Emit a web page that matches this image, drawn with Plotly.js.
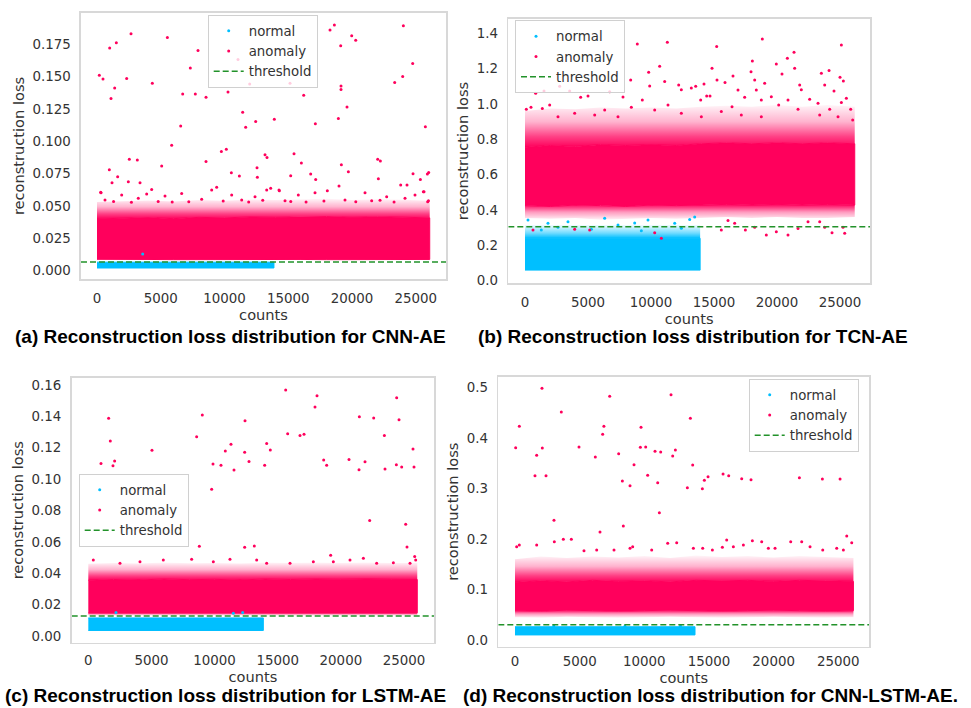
<!DOCTYPE html>
<html>
<head>
<meta charset="utf-8">
<script src="https://cdn.plot.ly/plotly-3.0.1.min.js"></script>
<style>html,body{margin:0;padding:0;background:#fff;}#chart{width:971px;height:708px;}</style>
</head>
<body>
<div id="chart"></div>
<script>
// ---------------- DATA ----------------
const xTickVals = [0, 5000, 10000, 15000, 20000, 25000];
const xTickLabels = ['0', '5000', '10000', '15000', '20000', '25000'];

// (a) CNN-AE
const aYTickVals = [0, 0.025, 0.05, 0.075, 0.1, 0.125, 0.15, 0.175];
const aYTickLabels = ['0.000', '0.025', '0.050', '0.075', '0.100', '0.125', '0.150', '0.175'];
const aThreshold = 0.0067;
const aEnvX = [0, 2000, 4000, 6000, 8000, 10000, 12000, 14000, 16000, 18000, 20000, 22000, 24000, 26100];
const aCoreLo = [0.0088, 0.0086, 0.0087, 0.0085, 0.0086, 0.0087, 0.0085, 0.0086, 0.0087, 0.0085, 0.0086, 0.0087, 0.0085, 0.0087];
const aCoreHi = [0.0400, 0.0405, 0.0410, 0.0402, 0.0412, 0.0408, 0.0415, 0.0412, 0.0416, 0.0418, 0.0412, 0.0416, 0.0413, 0.0408];
const aEdgeHi = [0.0530, 0.0538, 0.0542, 0.0535, 0.0546, 0.0540, 0.0550, 0.0546, 0.0552, 0.0555, 0.0546, 0.0552, 0.0548, 0.0540];
const aNormX = [0, 13880];
const aNormLo = [0.0021, 0.0021];
const aNormHi = [0.0066, 0.0066];
const aNormDotX = [3583];
const aNormDotY = [0.0129];
const aAnomX = [183, 471, 994, 1098, 1386, 1517, 2327, 2667, 968, 1177, 1621, 288, 2536, 3164, 2458, 3373, 4341, 5073, 5518, 5858, 6564, 6721, 7322, 7714, 7924, 8551, 8551, 9754, 10146, 10277, 10539, 11166, 11061, 11427, 11663, 11977, 12447, 12552, 12578, 13180, 13336, 13911, 13624, 14304, 15141, 15193, 15455, 16030, 16213, 16762, 17128, 17154, 18279, 18619, 18933, 19116, 19142, 19142, 19168, 18985, 19613, 19718, 19979, 20293, 22018, 22228, 22071, 23352, 23980, 24032, 24764, 24790, 25758, 25366, 26020, 25915, 23822, 24319, 25601,
  314, 1935, 3896, 4288, 5334, 6641, 8994, 9387, 10564, 12394, 13310, 14276, 15792, 17100, 18067, 21023, 22722, 25650, 25938, 628, 3240, 8210, 11350, 14747, 19453, 21546, 24160, 24944,
  1300, 2700, 4800, 5900, 7200, 9900, 11900, 13000, 15200, 16400, 17800, 20300, 22200, 23300, 26000];
const aAnomY = [0.151, 0.148, 0.172, 0.133, 0.141, 0.176, 0.1485, 0.183, 0.078, 0.068, 0.0726, 0.0605, 0.086, 0.0855, 0.0687, 0.068, 0.1447, 0.0808, 0.180, 0.0968, 0.1117, 0.1364, 0.1565, 0.1364, 0.170, 0.134, 0.0844, 0.0921, 0.0937, 0.138, 0.0757, 0.0731, 0.163, 0.1223, 0.1107, 0.1441, 0.1153, 0.0795, 0.0721, 0.0896, 0.0875, 0.1169, 0.0636, 0.0618, 0.1447, 0.0734, 0.0903, 0.0831, 0.1354, 0.0746, 0.1135, 0.0705, 0.1858, 0.1897, 0.1176, 0.1737, 0.1426, 0.140, 0.0819, 0.0654, 0.1264, 0.0764, 0.1815, 0.178, 0.086, 0.0847, 0.071, 0.1454, 0.150, 0.1892, 0.160, 0.0749, 0.1112, 0.0705, 0.0759, 0.0746, 0.0662, 0.0662, 0.061,
  0.0602, 0.0584, 0.0592, 0.0628, 0.0577, 0.0597, 0.0623, 0.0644, 0.0584, 0.0571, 0.0623, 0.0623, 0.0584, 0.0602, 0.0618, 0.0602, 0.0571, 0.061, 0.0533, 0.0546, 0.0559, 0.0551, 0.0546, 0.0541, 0.0546, 0.0541, 0.0559, 0.0584,
  0.0535, 0.0528, 0.0535, 0.053, 0.0532, 0.0538, 0.053, 0.0545, 0.0535, 0.053, 0.0538, 0.0532, 0.0545, 0.053, 0.054];

// (b) TCN-AE
const bYTickVals = [0, 0.2, 0.4, 0.6, 0.8, 1.0, 1.2, 1.4];
const bYTickLabels = ['0.0', '0.2', '0.4', '0.6', '0.8', '1.0', '1.2', '1.4'];
const bThreshold = 0.306;
const bEnvX = [0, 2000, 4000, 6000, 8000, 10000, 12000, 14000, 16000, 18000, 20000, 22000, 24000, 26170];
const bEdgeLo = [0.355, 0.350, 0.355, 0.345, 0.350, 0.355, 0.350, 0.355, 0.360, 0.355, 0.360, 0.355, 0.355, 0.360];
const bCoreLo = [0.425, 0.420, 0.428, 0.425, 0.420, 0.428, 0.425, 0.428, 0.432, 0.428, 0.432, 0.428, 0.432, 0.428];
const bCoreHi = [0.755, 0.765, 0.760, 0.770, 0.765, 0.770, 0.765, 0.775, 0.780, 0.775, 0.780, 0.775, 0.780, 0.775];
const bEdgeHi = [0.960, 0.975, 0.970, 0.980, 0.975, 0.980, 0.975, 0.985, 0.990, 0.985, 0.995, 0.985, 0.995, 0.985];
const bNormX = [0, 13900];
const bNormLo = [0.060, 0.060];
const bNormHi = [0.240, 0.240];
const bNormEdgeHi = [0.315, 0.315];
const bNormDotX = [238, 1825, 3413, 6324, 7381, 8704, 9763, 11880, 13071, 13466, 12408, 1296, 5265, 9233, 2619];
const bNormDotY = [0.344, 0.325, 0.334, 0.353, 0.315, 0.327, 0.344, 0.325, 0.347, 0.361, 0.297, 0.287, 0.291, 0.283, 0.302];
const bAnomX = [8915, 11296, 15213, 18837, 25107, 21351, 20822, 19948, 18044, 17938, 10689, 9815, 14842, 16508, 23520, 24130, 25002, 21402, 20398, 8387, 11085, 9895, 13547, 15239, 15874, 18229, 19022, 25266, 24525, 23785, 21932, 21800, 25849, 26007, 847, 1508, 3545, 2751, 106, 476, 1376, 1958, 4418, 5000, 6720, 7778, 9312, 12197, 12408, 13202, 14207, 14420, 14685, 13944, 16905, 17435, 16430, 18360, 18757, 19550, 20134, 20874, 22593, 23255, 24182, 25107, 25504, 5531, 6324, 8439, 10292, 11350, 12408, 15583, 17170, 21668, 23388, 2619, 3942, 7381, 13996, 18757, 24843,
  15583, 17488, 18229, 19154, 19948, 20874, 22462, 24367, 25372, 25240, 23785, 21668, 16640, 16112, 23388, 10820, 635, 3942, 5133, 10292];
const bAnomY = [1.340, 1.349, 1.325, 1.368, 1.334, 1.293, 1.259, 1.227, 1.244, 1.183, 1.214, 1.180, 1.202, 1.159, 1.174, 1.189, 1.151, 1.202, 1.170, 1.136, 1.127, 1.102, 1.100, 1.136, 1.121, 1.136, 1.117, 1.130, 1.074, 1.108, 1.080, 1.108, 0.970, 0.910, 1.061, 1.074, 1.074, 1.100, 0.970, 0.982, 0.975, 0.995, 1.038, 1.045, 1.070, 1.040, 1.023, 1.108, 1.080, 1.090, 1.113, 1.045, 1.045, 1.023, 1.079, 1.038, 0.985, 1.079, 1.023, 1.041, 0.995, 1.023, 1.027, 1.004, 0.970, 1.008, 1.032, 0.938, 0.966, 0.982, 0.966, 0.995, 0.948, 0.957, 0.938, 0.970, 0.938, 0.928, 0.948, 0.928, 0.928, 0.928, 0.928,
  0.287, 0.287, 0.302, 0.259, 0.277, 0.259, 0.334, 0.272, 0.268, 0.302, 0.302, 0.296, 0.325, 0.340, 0.334, 0.240, 0.287, 0.291, 0.287, 0.272];

// (c) LSTM-AE
const cYTickVals = [0, 0.02, 0.04, 0.06, 0.08, 0.10, 0.12, 0.14, 0.16];
const cYTickLabels = ['0.00', '0.02', '0.04', '0.06', '0.08', '0.10', '0.12', '0.14', '0.16'];
const cThreshold = 0.0127;
const cEnvX = [0, 2000, 4000, 6000, 8000, 10000, 12000, 14000, 16000, 18000, 20000, 22000, 24000, 26050];
const cEdgeLo = [0.0130, 0.0129, 0.0131, 0.0130, 0.0129, 0.0130, 0.0131, 0.0130, 0.0129, 0.0130, 0.0131, 0.0130, 0.0129, 0.0130];
const cCoreLo = [0.0147, 0.0146, 0.0148, 0.0146, 0.0147, 0.0146, 0.0148, 0.0147, 0.0146, 0.0147, 0.0148, 0.0146, 0.0147, 0.0147];
const cCoreHi = [0.0355, 0.0360, 0.0357, 0.0363, 0.0359, 0.0361, 0.0357, 0.0363, 0.0360, 0.0363, 0.0361, 0.0364, 0.0361, 0.0360];
const cEdgeHi = [0.0460, 0.0465, 0.0462, 0.0468, 0.0464, 0.0466, 0.0462, 0.0468, 0.0465, 0.0468, 0.0466, 0.0469, 0.0466, 0.0465];
const cNormX = [0, 13860];
const cNormLo = [0.0035, 0.0035];
const cNormHi = [0.0115, 0.0115];
const cNormDotX = [2191, 11484, 12223];
const cNormDotY = [0.0149, 0.0145, 0.0149];
const cAnomX = [1003, 1610, 1742, 1954, 2086, 5042, 8580, 9029, 9768, 9874, 10507, 10850, 11299, 11537, 12382, 12408, 12725, 12382, 13147, 8791, 13966, 14124, 14414, 15629, 15787, 16764, 17081, 17952, 18110, 18638, 18876, 20645, 21437, 21464, 21912, 22282, 22598, 23443, 23496, 24394, 24420, 24605, 24816, 25133, 25238, 25714, 25793, 19193, 25846,
  396, 2508, 4092, 5940, 8184, 9900, 11220, 13332, 14124, 15972, 17820, 19404, 20724, 21780, 22836, 24156, 25476, 25925];
const cAnomY = [0.110, 0.1388, 0.1243, 0.1086, 0.1116, 0.1184, 0.127, 0.1409, 0.0935, 0.1097, 0.1088, 0.1179, 0.1222, 0.1058, 0.1171, 0.1373, 0.1113, 0.0565, 0.0574, 0.0572, 0.1088, 0.1228, 0.1186, 0.1568, 0.129, 0.1279, 0.1286, 0.146, 0.1532, 0.1122, 0.1088, 0.1126, 0.106, 0.1398, 0.1111, 0.0737, 0.139, 0.1279, 0.1065, 0.1092, 0.1519, 0.1379, 0.1077, 0.0712, 0.0567, 0.1192, 0.1077, 0.0514, 0.0506,
  0.0485, 0.0463, 0.0474, 0.0485, 0.0489, 0.0474, 0.0489, 0.0485, 0.0463, 0.0463, 0.0474, 0.0474, 0.0485, 0.0495, 0.0463, 0.0467, 0.0463, 0.0485];

// (d) CNN-LSTM-AE
const dYTickVals = [0, 0.1, 0.2, 0.3, 0.4, 0.5];
const dYTickLabels = ['0.0', '0.1', '0.2', '0.3', '0.4', '0.5'];
const dThreshold = 0.0303;
const dEnvX = [0, 2000, 4000, 6000, 8000, 10000, 12000, 14000, 16000, 18000, 20000, 22000, 24000, 26170];
const dEdgeLo = [0.045, 0.044, 0.046, 0.045, 0.044, 0.045, 0.046, 0.045, 0.044, 0.045, 0.046, 0.045, 0.044, 0.045];
const dCoreLo = [0.058, 0.057, 0.059, 0.058, 0.057, 0.058, 0.059, 0.058, 0.057, 0.058, 0.059, 0.058, 0.057, 0.058];
const dCoreHi = [0.114, 0.117, 0.115, 0.118, 0.116, 0.117, 0.115, 0.118, 0.117, 0.118, 0.116, 0.118, 0.117, 0.116];
const dEdgeHi = [0.160, 0.165, 0.162, 0.165, 0.163, 0.166, 0.162, 0.167, 0.164, 0.166, 0.163, 0.166, 0.164, 0.162];
const dNormX = [0, 13920];
const dNormLo = [0.0100, 0.0100];
const dNormHi = [0.0262, 0.0262];
const dNormDotX = [3000, 8500, 12800];
const dNormDotY = [0.0275, 0.0272, 0.0278];
const dAnomX = [52, 335, 1547, 1676, 2088, 2114, 2398, 3016, 3583, 4950, 6213, 6874, 6574, 6780, 7322, 8017, 8301, 8378, 8894, 9204, 9693, 9745, 10106, 10260, 10827, 11034, 11163, 11266, 12065, 12194, 12400, 13328, 13560, 13740, 14488, 14643, 14927, 16087, 16525, 17530, 18252, 21990, 23769, 25135,
  129, 335, 1676, 3042, 3738, 4357, 5336, 6316, 7657, 8894, 9100, 10570, 11807, 12503, 13792, 14514, 15262, 16035, 16370, 16886, 17659, 18355, 19077, 19592, 20108, 21320, 22170, 22815, 23795, 24878, 25651, 26038, 25393];
const dAnomY = [0.3805, 0.4227, 0.3251, 0.3654, 0.4979, 0.3799, 0.3251, 0.2368, 0.4511, 0.3818, 0.3621, 0.4227, 0.2137, 0.4069, 0.4821, 0.3687, 0.3146, 0.2255, 0.3053, 0.3469, 0.3812, 0.4208, 0.3818, 0.3258, 0.3733, 0.3113, 0.2519, 0.3720, 0.4854, 0.3640, 0.3759, 0.3014, 0.4386, 0.3462, 0.2994, 0.3159, 0.3232, 0.3284, 0.3251, 0.3192, 0.3172, 0.3212, 0.3185, 0.3185,
  0.1847, 0.188, 0.188, 0.1946, 0.1992, 0.1992, 0.1767, 0.1781, 0.1781, 0.1814, 0.1847, 0.1781, 0.1913, 0.1926, 0.1814, 0.1814, 0.1781, 0.1833, 0.1979, 0.1847, 0.188, 0.1965, 0.1946, 0.1814, 0.1814, 0.1946, 0.1946, 0.1847, 0.1781, 0.1814, 0.2058, 0.1926, 0.1781];

const captions = [
  '(a) Reconstruction loss distribution for CNN-AE',
  '(b) Reconstruction loss distribution for TCN-AE',
  '(c) Reconstruction loss distribution for LSTM-AE',
  '(d) Reconstruction loss distribution for CNN-LSTM-AE.'
];

// ---------------- STYLE / LAYOUT ----------------
const W = 971, H = 708;
const PINK = '#ff005c';
const CYAN = '#00bfff';
const GREEN = '#22922a';
const TXT = '#333333';
const FONT = '"DejaVu Sans", sans-serif';
const TICK_FS = 13.4, TITLE_FS = 14.6, LEG_FS = 13.3;
// density fade of the point clouds (0 = bottom of the band, 1 = top)
const PINK_UP = [[0, 'rgba(255,0,92,1)'], [0.25, 'rgba(255,0,92,0.75)'], [0.6, 'rgba(255,0,92,0.3)'], [1, 'rgba(255,0,92,0.04)']];
const PINK_DOWN = [[0, 'rgba(255,0,92,0.05)'], [0.5, 'rgba(255,0,92,0.4)'], [1, 'rgba(255,0,92,1)']];
const CYAN_UP = [[0, 'rgba(0,191,255,1)'], [0.4, 'rgba(0,191,255,0.55)'], [1, 'rgba(0,191,255,0.06)']];

function xd(p0, p1) { return [p0 / W, p1 / W]; }
function yd(p0, p1) { return [1 - p1 / H, 1 - p0 / H]; }

const panels = [
  { id: '', leg: 'legend', xr: [-1255, 27376], yr: [-0.0064, 0.199], xdom: xd(81, 446), ydom: yd(13, 279),
    yt: aYTickVals, yl: aYTickLabels, thr: aThreshold, envX: aEnvX, xTickLen: 6, xStandoff: 2,
    lo: aCoreLo, hi: aCoreHi, edgeHi: aEdgeHi, edgeLo: null,
    nX: aNormX, nLo: aNormLo, nHi: aNormHi, nEdge: null, ndX: aNormDotX, ndY: aNormDotY, anX: aAnomX, anY: aAnomY },
  { id: '2', leg: 'legend2', xr: [-1325, 27381], yr: [-0.013, 1.481], xdom: xd(508.3, 870), ydom: yd(19, 283),
    yt: bYTickVals, yl: bYTickLabels, thr: bThreshold, envX: bEnvX, xTickLen: 6, xStandoff: 2,
    lo: bCoreLo, hi: bCoreHi, edgeHi: bEdgeHi, edgeLo: bEdgeLo,
    nX: bNormX, nLo: bNormLo, nHi: bNormHi, nEdge: bNormEdgeHi, ndX: bNormDotX, ndY: bNormDotY, anX: bAnomX, anY: bAnomY },
  { id: '3', leg: 'legend3', xr: [-1315, 27375], yr: [-0.0043, 0.1647], xdom: xd(71.7, 434), ydom: yd(377.7, 642.7),
    yt: cYTickVals, yl: cYTickLabels, thr: cThreshold, envX: cEnvX, xTickLen: 5, xStandoff: 0,
    lo: cCoreLo, hi: cCoreHi, edgeHi: cEdgeHi, edgeLo: cEdgeLo,
    nX: cNormX, nLo: cNormLo, nHi: cNormHi, nEdge: null, ndX: cNormDotX, ndY: cNormDotY, anX: cAnomX, anY: cAnomY },
  { id: '4', leg: 'legend4', xr: [-1291, 27397], yr: [-0.0133, 0.521], xdom: xd(498.3, 869.3), ydom: yd(376.7, 646.7),
    yt: dYTickVals, yl: dYTickLabels, thr: dThreshold, envX: dEnvX, xTickLen: 2, xStandoff: 0,
    lo: dCoreLo, hi: dCoreHi, edgeHi: dEdgeHi, edgeLo: dEdgeLo,
    nX: dNormX, nLo: dNormLo, nHi: dNormHi, nEdge: null, ndX: dNormDotX, ndY: dNormDotY, anX: dAnomX, anY: dAnomY }
];

function band(xs, lo, hi, xa, ya, color, grad, edgeLine) {
  const t = { type: 'scatter', mode: 'lines', x: xs.concat(xs.slice().reverse()), y: hi.concat(lo.slice().reverse()),
    fill: 'toself', fillcolor: color, line: edgeLine ? { width: 1, color: color } : { width: 0 },
    xaxis: xa, yaxis: ya, showlegend: false, hoverinfo: 'skip' };
  if (grad) t.fillgradient = { type: 'vertical', colorscale: grad };
  return t;
}

const traces = [];
const layout = {
  width: W, height: H, margin: { l: 0, r: 0, t: 0, b: 0 }, paper_bgcolor: '#fff', plot_bgcolor: '#fff',
  showlegend: true, hovermode: false, font: { family: FONT, size: TICK_FS, color: TXT }, annotations: []
};

panels.forEach(function (p) {
  const xa = 'x' + p.id, ya = 'y' + p.id;
  // normal (blue) cloud: fading upper edge, then dense core
  if (p.nEdge) traces.push(band(p.nX, p.nHi, p.nEdge, xa, ya, 'rgba(0,191,255,0.4)', CYAN_UP, false));
  traces.push(band(p.nX, p.nLo, p.nHi, xa, ya, CYAN, null, true));
  // anomaly (pink) cloud: fading edges, then dense core
  if (p.edgeLo) traces.push(band(p.envX, p.edgeLo, p.lo, xa, ya, 'rgba(255,0,92,0.4)', PINK_DOWN, false));
  traces.push(band(p.envX, p.hi, p.edgeHi, xa, ya, 'rgba(255,0,92,0.4)', PINK_UP, false));
  traces.push(band(p.envX, p.lo, p.hi, xa, ya, PINK, null, true));
  // individual points
  traces.push({ type: 'scatter', mode: 'markers', name: 'normal', x: p.ndX, y: p.ndY, xaxis: xa, yaxis: ya,
    marker: { size: 3, color: CYAN }, legend: p.leg, hoverinfo: 'skip' });
  traces.push({ type: 'scatter', mode: 'markers', name: 'anomaly', x: p.anX, y: p.anY, xaxis: xa, yaxis: ya,
    marker: { size: 3, color: PINK }, legend: p.leg, hoverinfo: 'skip' });
  traces.push({ type: 'scatter', mode: 'lines', name: 'threshold', x: p.xr, y: [p.thr, p.thr], xaxis: xa, yaxis: ya,
    line: { color: GREEN, width: 1.5, dash: '6px,3px' }, legend: p.leg, hoverinfo: 'skip' });

  const common = { showline: true, mirror: true, linecolor: '#d8d8d8', linewidth: 1.6, showgrid: false, zeroline: false,
    ticks: 'outside', ticklen: 6, tickcolor: 'rgba(0,0,0,0)', tickfont: { family: FONT, size: TICK_FS, color: TXT }, fixedrange: true };
  layout['xaxis' + p.id] = Object.assign({}, common, { domain: p.xdom, range: p.xr, anchor: ya, tickmode: 'array',
    ticklen: p.xTickLen,
    tickvals: xTickVals, ticktext: xTickLabels, title: { text: 'counts', font: { family: FONT, size: TITLE_FS, color: TXT }, standoff: p.xStandoff } });
  layout['yaxis' + p.id] = Object.assign({}, common, { domain: p.ydom, range: p.yr, anchor: xa, tickmode: 'array',
    tickvals: p.yt, ticktext: p.yl, title: { text: 'reconstruction loss', font: { family: FONT, size: TITLE_FS, color: TXT }, standoff: 4 } });
});

const legPos = [[207.7, 14.5], [515, 20], [78.7, 473.5], [748.7, 378.5]];
['legend', 'legend2', 'legend3', 'legend4'].forEach(function (k, i) {
  layout[k] = { x: legPos[i][0] / W, y: 1 - legPos[i][1] / H, xanchor: 'left', yanchor: 'top',
    bgcolor: 'rgba(255,255,255,0.8)', bordercolor: '#d0d0d0', borderwidth: 1, tracegroupgap: 0,
    font: { family: FONT, size: LEG_FS, color: TXT } };
});

const capPos = [[230, 336], [693, 336], [225, 695.5], [710, 695.5]];
captions.forEach(function (c, i) {
  layout.annotations.push({ text: '<b>' + c + '</b>', xref: 'paper', yref: 'paper', x: capPos[i][0] / W, y: 1 - capPos[i][1] / H,
    xanchor: 'center', yanchor: 'middle', showarrow: false, font: { family: '"Liberation Sans", Arial, sans-serif', size: 19, color: '#000' } });
});

Plotly.newPlot('chart', traces, layout, { displayModeBar: false, staticPlot: true });
</script>
</body>
</html>
